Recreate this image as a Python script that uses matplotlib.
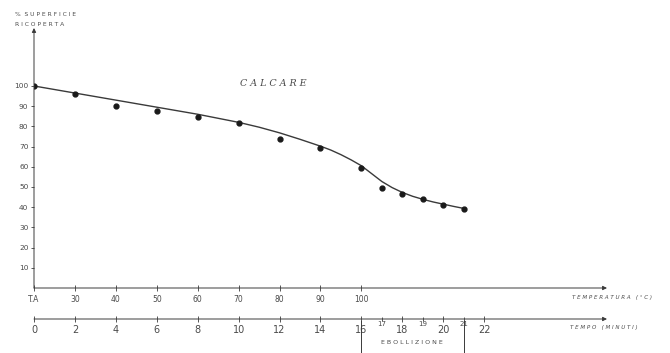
import matplotlib.pyplot as plt
from matplotlib.ticker import FixedLocator, FixedFormatter

# dati (tempo in minuti, % superficie ricoperta)
tempo_punti = [0, 2, 4, 6, 8, 10, 12, 14, 16, 17, 18, 19, 20, 21]
superficie_punti = [100, 96, 90, 87.5, 84.5, 81.5, 74, 69.5, 59.5, 49.5, 46.5, 44, 41, 39]

# curva tracciata a mano sul grafico originale
tempo_curva = [0, 2, 4, 6, 8, 10, 11, 12, 13, 14, 14.5, 15, 15.5, 16, 16.5, 17, 17.5,
               18, 18.5, 19, 19.5, 20, 20.5, 21]
superficie_curva = [100, 96.5, 93, 89.5, 86, 82, 79.6, 76.8, 73.6, 70.2, 68.3, 66, 63.4, 60.5,
                    56.6, 52.7, 49.7, 47.3, 45.4, 43.9, 42.6, 41.5, 40.4, 39.4]

temp_pos = [0, 2, 4, 6, 8, 10, 12, 14, 16]
temp_lab = ['T.A', '30', '40', '50', '60', '70', '80', '90', '100']
tempo_tick = [0, 2, 4, 6, 8, 10, 12, 14, 16, 18, 20, 22]
tempo_minor = [17, 19, 21]
y_tick = [10, 20, 30, 40, 50, 60, 70, 80, 90, 100]

ink = '#3a3a3a'
txt = '#4a4a4a'

fig = plt.figure(figsize=(6.7, 3.53), dpi=100)
fig.patch.set_facecolor('white')
W, H = 670, 353
ax = fig.add_axes([34 / W, 65 / H, 573 / W, 260 / H])
ax.set_xlim(0, 28)
ax.set_ylim(0, 128.7)
for s in ax.spines.values():
    s.set_visible(False)

ax.plot(tempo_curva, superficie_curva, color=ink, lw=1.0)
ax.plot(tempo_punti, superficie_punti, 'o', color='#1a1a1a', ms=3.5)

# assi con frecce
arr = dict(arrowstyle='-|>', lw=0.7, color=ink, mutation_scale=6, shrinkA=0, shrinkB=0)
ax.annotate('', xy=(0, 1), xytext=(0, 0), xycoords='axes fraction', arrowprops=arr)
ax.annotate('', xy=(1, 0), xytext=(0, 0), xycoords='axes fraction', arrowprops=arr)
y_tempo = -31 / 260
ax.annotate('', xy=(1, y_tempo), xytext=(0, y_tempo), xycoords='axes fraction',
            arrowprops=arr, annotation_clip=False)

# asse temperatura
ax.xaxis.set_major_locator(FixedLocator(temp_pos))
ax.xaxis.set_major_formatter(FixedFormatter(temp_lab))
ax.tick_params(axis='x', direction='inout', length=4, width=0.6, color=ink,
               labelsize=5.5, labelcolor=txt, pad=3)
ax.set_yticks(y_tick)
ax.set_yticklabels([str(v) for v in y_tick])
ax.tick_params(axis='y', direction='out', length=2.5, width=0.6, color=ink,
               labelsize=5.3, labelcolor=txt, pad=1.5)

# asse tempo
sec = ax.secondary_xaxis(y_tempo)
sec.spines['bottom'].set_visible(False)
sec.set_xticks(tempo_tick)
sec.set_xticklabels([str(v) for v in tempo_tick])
sec.xaxis.set_minor_locator(FixedLocator(tempo_minor))
sec.xaxis.set_minor_formatter(FixedFormatter([str(v) for v in tempo_minor]))
sec.tick_params(axis='x', which='major', direction='inout', length=4, width=0.6,
                color=ink, labelsize=7, labelcolor=txt, pad=2)
sec.tick_params(axis='x', which='minor', direction='inout', length=3, width=0.6,
                color=ink, labelsize=5, labelcolor=txt, pad=0)

# etichette
lab = dict(fontsize=4, style='italic', color=txt, family='DejaVu Sans')
fig.text(572 / W, 1 - 297 / H, 'T E M P E R A T U R A   ( ° C )', va='center', **lab)
fig.text(570 / W, 1 - 328 / H, 'T E M P O   ( M I N U T I )', va='center', **lab)
fig.text(15 / W, 1 - 14 / H, '%  S U P E R F I C I E', va='center', fontsize=4.3, color=txt)
fig.text(15 / W, 1 - 24 / H, 'R I C O P E R T A', va='center', fontsize=4.3, color=txt)
fig.text(240 / W, 1 - 84 / H, 'C A L C A R E', va='center', fontsize=6.8, style='italic',
         family='DejaVu Serif', color=txt)
fig.text(412 / W, 1 - 343 / H, 'E B O L L I Z I O N E', va='center', ha='center',
         fontsize=4.5, color=txt)
for t in [16, 21]:
    ax.plot([t, t], [-16.5, -32], color=ink, lw=0.7, clip_on=False)

fig.savefig('out.png', dpi=100, facecolor='white')
